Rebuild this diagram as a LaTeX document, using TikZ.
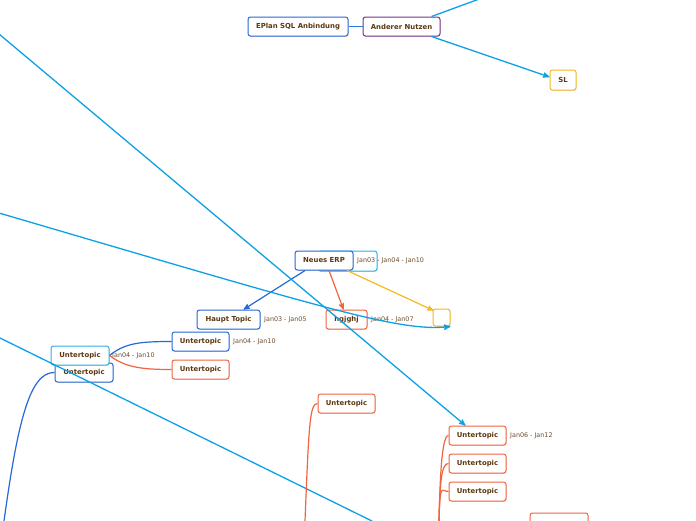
\documentclass[tikz,border=0pt]{standalone}
\usepackage{fontspec}
\setmainfont{DejaVu Sans}
\usetikzlibrary{arrows,shadows}
\definecolor{linkblue}{RGB}{14,160,228}
\definecolor{topicblue}{RGB}{38,104,214}
\definecolor{lightblue}{RGB}{48,176,232}
\definecolor{nutzenpurple}{RGB}{118,52,140}
\definecolor{topicorange}{RGB}{240,100,64}
\definecolor{topicyellow}{RGB}{245,184,30}
\definecolor{topictext}{RGB}{92,56,16}
\definecolor{datetext}{RGB}{110,76,44}
\tikzset{
    %Define standard arrow tip
    >=stealth',
    %Define style for boxes
    topic/.style={
           rectangle,
           rounded corners=2.5pt,
           draw, line width=1pt,
           fill=white,
           inner sep=0pt,
           minimum height=19pt,
           font=\bfseries\fontsize{6.9}{7}\selectfont,
           text=topictext,
           drop shadow={opacity=0.25, shadow xshift=0.6pt, shadow yshift=-0.9pt}},
    datum/.style={
           anchor=west,
           inner sep=0pt,
           font=\fontsize{6.4}{7}\selectfont,
           text=datetext},
    % Define arrow style
    link/.style={
           ->,
           linkblue,
           line width=1.3pt},
    branch/.style={
           line width=1.2pt}
}
\begin{document}
\begin{tikzpicture}[x=1pt, y=-1pt]
    \useasboundingbox (0,0) rectangle (696,520);
    % TOP
    \node[topic, draw=topicblue, minimum width=100pt] at (298,26.5) (eplan) {EPlan SQL Anbindung};
    \node[topic, draw=nutzenpurple, minimum width=77pt] at (401.5,26.5) (nutzen) {Anderer Nutzen};
    \node[topic, draw=topicyellow, minimum width=26pt, minimum height=20pt] at (563,80) (sl) {SL};
    \coordinate (offtop) at (482,-2);

    % CENTRE
    \node[topic, draw=lightblue, minimum width=59pt, minimum height=20pt] at (347.5,261) (erpback) {};
    \node[topic, draw=topicblue, minimum width=58pt] at (324,260.5) (erp) {Neues ERP};
    \node[datum] at (357,260.5) (erpdate) {Jan03 - Jan04 - Jan10};
    \node[topic, draw=topicblue, minimum width=63pt] at (228.5,319.5) (haupt) {Haupt Topic};
    \node[datum] at (264,319.5) (hauptdate) {Jan03 - Jan05};
    \node[topic, draw=topicorange, minimum width=41pt] at (346.5,319.5) (hgjghj) {hgjghj};
    \node[datum] at (371,319.5) (hgjghjdate) {Jan04 - Jan07};
    \node[topic, draw=topicyellow, minimum width=17pt, minimum height=17pt] at (441.5,317.5) (empty) {};

    % LEFT
    \node[topic, draw=topicblue, minimum width=58pt] at (84,372.5) (utB) {Untertopic};
    \node[topic, draw=lightblue, minimum width=58pt] at (80,355.5) (utA) {Untertopic};
    \node[datum] at (112,355.5) (utAdate) {Jan04 - Jan10};
    \node[topic, draw=topicblue, minimum width=57pt] at (200.5,341.5) (utC) {Untertopic};
    \node[datum] at (233,341.5) (utCdate) {Jan04 - Jan10};
    \node[topic, draw=topicorange, minimum width=57pt] at (200.5,369.5) (utD) {Untertopic};

    % BOTTOM
    \node[topic, draw=topicorange, minimum width=57pt] at (346.5,403.5) (utE) {Untertopic};
    \node[topic, draw=topicorange, minimum width=57pt] at (477.5,435.5) (utF) {Untertopic};
    \node[datum] at (510,435.5) (utFdate) {Jan06 - Jan12};
    \node[topic, draw=topicorange, minimum width=57pt] at (477.5,463.5) (utG) {Untertopic};
    \node[topic, draw=topicorange, minimum width=57pt] at (477.5,491.5) (utH) {Untertopic};
    \node[topic, draw=topicorange, minimum width=58pt, minimum height=20pt] at (559,523) (utI) {};

    \coordinate (leftA) at (-1,34);
    \coordinate (leftB) at (-1,213);
    \coordinate (leftC) at (-1,337.5);
    \coordinate (botC) at (372,521);
    \coordinate (botB) at (4,521);
    \coordinate (botE) at (305,521);
    \coordinate (botF) at (439,521);

    % CONNECTORS
    \draw[topicblue!70!lightblue, line width=0.9pt] (eplan.east) -- (nutzen.west);
    \draw[linkblue, line width=1.3pt] ([xshift=-9pt]nutzen.north east) -- (offtop);
    \draw[link] ([xshift=-9pt]nutzen.south east) -- ([yshift=3pt]sl.west);
    \draw[->, topicblue, line width=1.2pt] ([xshift=-19pt]erp.south) -- ([xshift=15pt]haupt.north);
    \draw[->, topicorange, line width=1.2pt] ([xshift=5pt]erp.south) -- ([xshift=-3pt]hgjghj.north);
    \draw[->, topicyellow, line width=1.2pt] ([xshift=23pt]erp.south) -- ([xshift=1pt,yshift=-2pt]empty.north west);
    \draw[link] (leftA) -- ([xshift=-12pt]utF.north);
    \draw[link] (leftB) .. controls (330,310) and (400,332) .. (empty.south east);
    \draw[linkblue, line width=1.3pt] (leftC) -- (botC);
    \draw[branch, topicblue] (utA.east) .. controls (125,343) and (140,341.5) .. (utC.west);
    \draw[branch, topicorange] (utA.east) .. controls (125,367) and (140,369.5) .. (utD.west);
    \draw[branch, topicblue] (utB.west) .. controls (30,372) and (18,420) .. (botB);
    \draw[branch, topicorange] (utE.west) .. controls (310,404) and (309,420) .. (botE);
    \foreach \ut in {utF,utG,utH}
        \draw[branch, topicorange] (\ut.west) .. controls +(-7,0) and +(1,-40) .. (botF);
\end{tikzpicture}
\end{document}
